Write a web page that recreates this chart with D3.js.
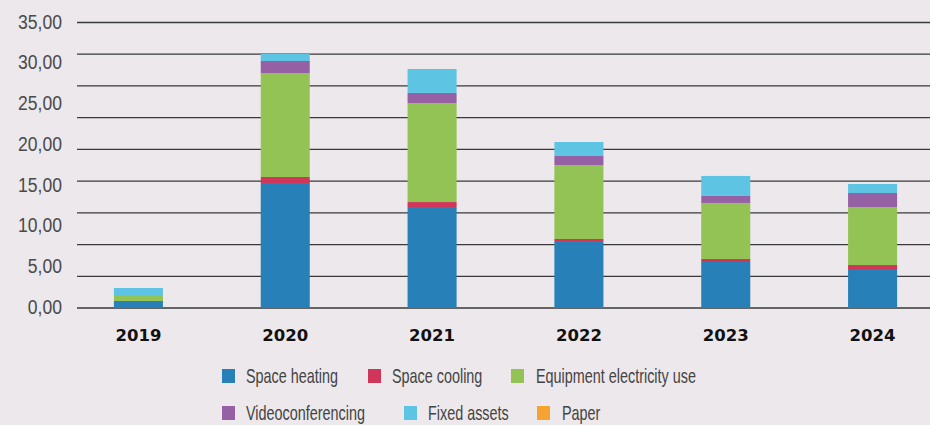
<!DOCTYPE html>
<html>
<head>
<meta charset="utf-8">
<script src="https://cdn.jsdelivr.net/npm/d3@7"></script>
<style>
  body { margin: 0; background: #ece8eb; }
  #chart { width: 930px; height: 425px; }
</style>
</head>
<body>
<div id="chart"></div>
<script>
// data
years = ["2019", "2020", "2021", "2022", "2023", "2024"];
seriesNames = ["Space heating", "Space cooling", "Equipment electricity use", "Videoconferencing", "Fixed assets", "Paper"];
spaceHeating = [0.86, 15.32, 12.38, 8.21, 5.64, 4.78];
spaceCooling = [0.00, 0.74, 0.61, 0.25, 0.37, 0.49];
equipmentElectricity = [0.61, 12.75, 12.14, 9.07, 6.87, 7.11];
videoconferencing = [0.00, 1.47, 1.23, 1.10, 0.86, 1.72];
fixedAssets = [0.98, 0.86, 2.94, 1.72, 2.45, 1.10];
paper = [0, 0, 0, 0, 0, 0];
yTicks = [0, 5, 10, 15, 20, 25, 30, 35];

colors = ["#2880b9", "#d0365a", "#93c355", "#9560a4", "#5ec4e3", "#f5a431"];

width = 930;
height = 425;

svg = d3.select("#chart").append("svg")
    .attr("width", width)
    .attr("height", height);

xScale = d3.scaleBand().domain(years).range([65, 946])
    .paddingInner(0.666).paddingOuter(0.333);
yScale = d3.scaleLinear().domain([0, 35]).range([308, 22.5]);

// grid lines (the original has 9 even bands, not aligned to the labels)
gridVals = d3.range(10).map(i => i * 35 / 9);
svg.append("g")
    .selectAll("line")
    .data(gridVals).enter()
    .append("line")
    .attr("x1", 77).attr("x2", width)
    .attr("y1", d => yScale(d)).attr("y2", d => yScale(d))
    .attr("stroke", "#3a3a3a")
    .attr("stroke-width", 1.3);

// y labels
svg.append("g")
    .selectAll("text")
    .data(yTicks).enter()
    .append("text")
    .attr("transform", d => `translate(62,${yScale(d) + 6}) scale(0.9,1)`)
    .attr("text-anchor", "end")
    .style("font-family", "'Liberation Sans', Arial, sans-serif")
    .style("font-size", "19.5px")
    .style("fill", "#4a4a4a")
    .text(d => d3.format(".2f")(d).replace(".", ","));

// stack
table = years.map((y, i) => ({
    year: y,
    "Space heating": spaceHeating[i],
    "Space cooling": spaceCooling[i],
    "Equipment electricity use": equipmentElectricity[i],
    "Videoconferencing": videoconferencing[i],
    "Fixed assets": fixedAssets[i],
    "Paper": paper[i]
}));
stacked = d3.stack().keys(seriesNames)(table);

svg.append("g")
    .selectAll("g")
    .data(stacked).enter()
    .append("g")
    .attr("fill", (d, i) => colors[i])
    .selectAll("rect")
    .data(d => d).enter()
    .append("rect")
    .attr("x", d => xScale(d.data.year))
    .attr("width", xScale.bandwidth())
    .attr("y", d => yScale(d[1]))
    .attr("height", d => yScale(d[0]) - yScale(d[1]));

// x labels
svg.append("g")
    .selectAll("text")
    .data(years).enter()
    .append("text")
    .attr("x", d => xScale(d) + xScale.bandwidth() / 2)
    .attr("y", 341)
    .attr("text-anchor", "middle")
    .style("font-family", "'DejaVu Sans', sans-serif")
    .style("font-weight", "bold")
    .style("font-size", "16.5px")
    .style("fill", "#111")
    .text(d => d);

// legend (condensed look: squeeze the text horizontally)
legendPos = [
    {sx: 222, tx: 246, y: 369},
    {sx: 368, tx: 392, y: 369},
    {sx: 511, tx: 536, y: 369},
    {sx: 222, tx: 246, y: 406},
    {sx: 404, tx: 428, y: 406},
    {sx: 537, tx: 562, y: 406}
];
legend = svg.append("g")
    .selectAll("g")
    .data(seriesNames).enter()
    .append("g");
legend.append("rect")
    .attr("x", (d, i) => legendPos[i].sx)
    .attr("y", (d, i) => legendPos[i].y)
    .attr("width", 13).attr("height", 14)
    .attr("fill", (d, i) => colors[i]);
legend.append("text")
    .attr("transform", (d, i) => `translate(${legendPos[i].tx},${legendPos[i].y + 14}) scale(0.72,1)`)
    .style("font-family", "'Liberation Sans', sans-serif")
    .style("font-size", "20px")
    .style("fill", "#444")
    .text(d => d);
</script>
</body>
</html>
